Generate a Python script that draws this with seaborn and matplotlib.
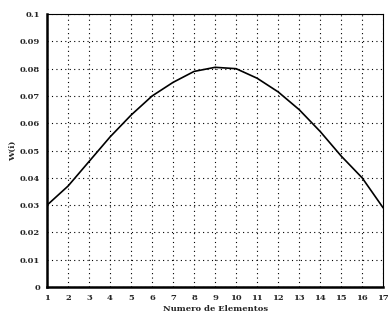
import matplotlib
matplotlib.use("Agg")
import matplotlib.pyplot as plt
import seaborn as sns
import pandas as pd

elements = list(range(1, 18))
weights = [0.030, 0.037, 0.046, 0.055, 0.063, 0.070, 0.075, 0.079, 0.0805,
           0.080, 0.0765, 0.0715, 0.065, 0.057, 0.048, 0.040, 0.029]
yticks = [0, 0.01, 0.02, 0.03, 0.04, 0.05, 0.06, 0.07, 0.08, 0.09, 0.1]
ytick_labels = ["0", "0.01", "0.02", "0.03", "0.04", "0.05", "0.06", "0.07", "0.08", "0.09", "0.1"]

df = pd.DataFrame({"x": elements, "w": weights})

sns.set_style("white")
plt.rcParams['font.family'] = ['DejaVu Serif']

fig = plt.figure(figsize=(3.89, 3.28), dpi=100)
ax = fig.add_axes([0.121, 0.125, 0.864, 0.832])
sns.lineplot(data=df, x="x", y="w", ax=ax, color="black", linewidth=1.2)

ax.set_xlim(1, 17)
ax.set_ylim(0, 0.1)
ax.set_xticks(elements)
ax.set_xticklabels([str(e) for e in elements], fontsize=6, fontweight="bold")
ax.set_yticks(yticks)
ax.set_yticklabels(ytick_labels, fontsize=6, fontweight="bold")
ax.grid(True, color="black", linestyle=(0, (1, 3)), linewidth=0.8)
for s in ["left", "bottom"]:
    ax.spines[s].set_linewidth(1.8)
    ax.spines[s].set_color("black")
for s in ["top", "right"]:
    ax.spines[s].set_linewidth(0.8)
    ax.spines[s].set_color("black")
ax.tick_params(axis="both", length=3, width=1, color="black", direction="out", pad=2)
ax.set_xlabel("Numero de Elementos", fontsize=6, fontweight="bold", labelpad=2)
ax.set_ylabel("W(i)", fontsize=6, fontweight="bold", labelpad=2)

fig.savefig("out.png", dpi=100)
